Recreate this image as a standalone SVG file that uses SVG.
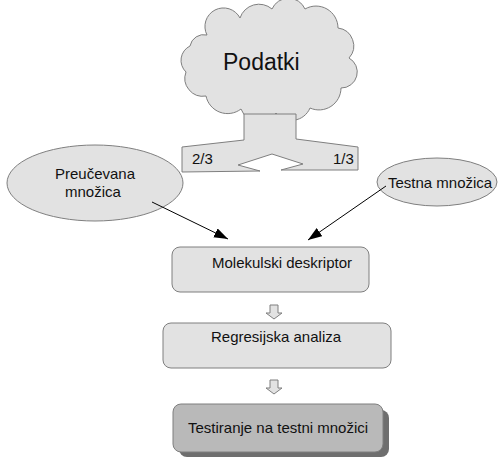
<svg xmlns="http://www.w3.org/2000/svg" width="499" height="458" viewBox="0 0 499 458">
<defs>
<style>
text{font-family:"Liberation Sans",Arial,sans-serif;fill:#111;font-size:15px}
.sh{fill:#e2e2e2;stroke:#7f7f7f;stroke-width:1}
.ln{stroke:#000;stroke-width:1;fill:none}
</style>
<marker id="ah" markerUnits="userSpaceOnUse" markerWidth="16" markerHeight="12" refX="14" refY="5" orient="auto">
<path d="M0,0 L14,5 L0,10 Z" fill="#000"/>
</marker>
</defs>
<g id="podatki">
<path class="sh" d="M207,35 A18,18 0 0,1 240,18 A20,20 0 0,1 272,9 A18,18 0 0,1 305,9 A22,22 0 0,1 338,28 A18,18 0 0,1 349,58 A16,16 0 0,1 341,88 A22,22 0 0,1 310,108 A20,20 0 0,1 276,113 A20,20 0 0,1 241,109 A22,22 0 0,1 206,96 A18,18 0 0,1 186,72 A16,16 0 0,1 190,46 A14,14 0 0,1 207,35 Z"/>
<text x="223" y="70" style="font-size:23px">Podatki</text>
</g>
<g id="split">
<path class="sh" d="M244,114 L296,114 L296,139 L358,147 L358,170 L281,170 L303,164 L272,154 L238,165 L260,171 L182,172 L182,147 L244,140 Z"/>
<text x="192" y="164">2/3</text>
<text x="333" y="164">1/3</text>
</g>
<g id="preucevana">
<ellipse class="sh" cx="95" cy="183" rx="88" ry="38"/>
<text x="55" y="179">Preučevana</text>
<text x="65" y="197">množica</text>
</g>
<g id="testna">
<ellipse class="sh" cx="437" cy="182" rx="60" ry="24"/>
<text x="388" y="188">Testna množica</text>
</g>
<g id="molekulski">
<rect class="sh" x="172" y="247" width="197" height="45" rx="8"/>
<text x="212" y="268">Molekulski deskriptor</text>
</g>
<g id="regresijska">
<rect class="sh" x="163" y="323" width="228" height="45" rx="8"/>
<text x="211" y="342">Regresijska analiza</text>
</g>
<g id="testiranje">
<rect x="179" y="410" width="210" height="47" rx="8" fill="#6e6e6e"/>
<rect x="173" y="404" width="210" height="48" rx="8" fill="#b9b9b9" stroke="#7f7f7f"/>
<text x="188" y="433">Testiranje na testni množici</text>
</g>
<g id="connectors">
<line class="ln" x1="152" y1="202" x2="228" y2="239" marker-end="url(#ah)"/>
<line class="ln" x1="386" y1="186" x2="308" y2="240" marker-end="url(#ah)"/>
<path class="sh" d="M270,305 L278,305 L278,313 L282,313 L274,319 L266,313 L270,313 Z"/>
<path class="sh" d="M270,380 L278,380 L278,388 L282,388 L274,394 L266,388 L270,388 Z"/>
</g>
</svg>
